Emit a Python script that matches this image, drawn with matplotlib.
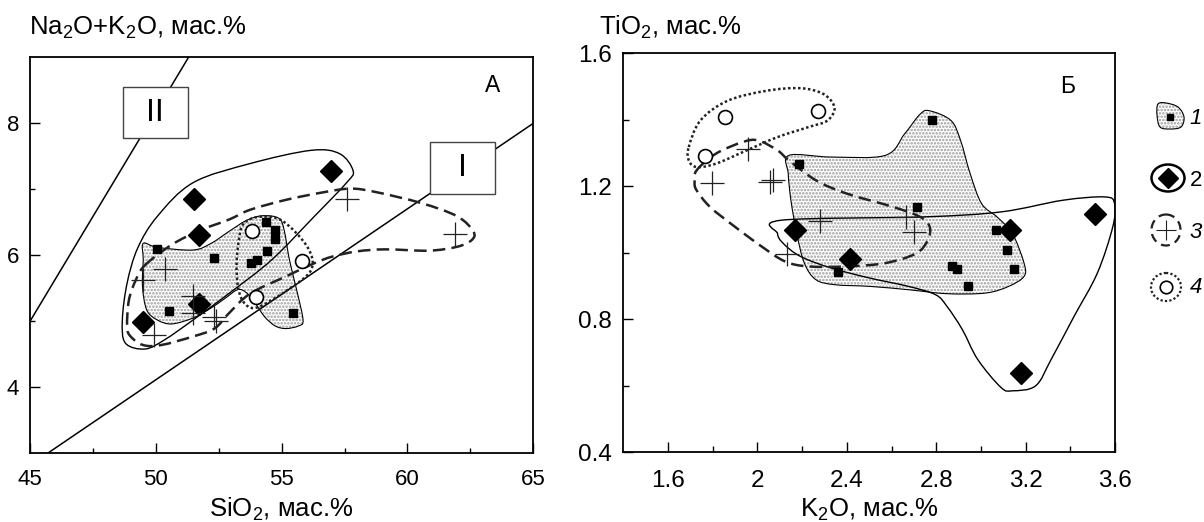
import numpy as np
import matplotlib
matplotlib.use('Agg')
import matplotlib.pyplot as plt
from matplotlib.path import Path
from matplotlib.patches import PathPatch, Rectangle, Ellipse

plt.rcParams['font.family'] = ['Liberation Sans', 'DejaVu Sans']
plt.rcParams['mathtext.fontset'] = 'custom'
plt.rcParams['mathtext.rm'] = 'Liberation Sans'
plt.rcParams['mathtext.it'] = 'Liberation Sans:italic'
plt.rcParams['hatch.linewidth'] = 1.2

# ---------- panel A: SiO2 vs Na2O+K2O ----------
a_sq_x = [50.06, 52.30, 50.52, 54.39, 54.74, 54.72, 54.43, 53.78, 54.01, 55.45]
a_sq_y = [6.09, 5.96, 5.16, 6.50, 6.38, 6.25, 6.07, 5.89, 5.93, 5.12]
a_dm_x = [51.50, 51.71, 51.71, 49.50, 56.96]
a_dm_y = [6.86, 6.30, 5.26, 4.99, 7.28]
a_cr_x = [57.58, 61.87, 50.35, 49.50, 51.48, 51.48, 52.33, 52.40, 49.92]
a_cr_y = [6.85, 6.33, 5.79, 5.63, 5.38, 5.12, 5.07, 5.00, 4.79]
a_ci_x = [53.82, 55.81, 53.99]
a_ci_y = [6.37, 5.91, 5.37]

# field outlines
a_f1_x = [49.50, 50.06, 51.48, 52.19, 52.90, 53.61, 54.25, 54.89, 55.10, 55.31, 55.60, 55.85, 55.67,
          55.17, 54.74, 54.32, 53.96, 53.61, 53.26, 52.76, 52.19, 51.48, 50.63, 50.06, 49.64, 49.47, 49.50]
a_f1_y = [6.18, 6.12, 6.08, 6.18, 6.36, 6.53, 6.60, 6.56, 6.38, 5.93, 5.47, 5.02, 4.93,
          4.89, 4.93, 5.07, 5.27, 5.43, 5.48, 5.35, 5.20, 5.05, 4.96, 5.02, 5.17, 5.53, 5.93]
a_f2_x = [49.28, 50.06, 51.48, 53.75, 56.16, 57.30, 57.84, 57.58, 56.30, 54.60, 52.90, 51.48, 50.35,
          49.57, 48.79, 48.67, 48.86]
a_f2_y = [6.11, 6.59, 7.10, 7.39, 7.59, 7.54, 7.28, 7.10, 6.59, 5.93, 5.42, 5.02, 4.72,
          4.58, 4.67, 5.02, 5.58]
a_f3_x = [49.57, 50.63, 51.77, 52.90, 53.75, 55.17, 56.59, 57.72, 58.72, 60.56, 61.98, 62.62, 62.55,
          61.98, 60.84, 59.14, 58.01, 57.01, 56.30, 55.17, 53.75, 52.90, 52.33, 51.48, 50.21, 49.50,
          49.00, 48.86, 48.93, 49.21]
a_f3_y = [5.85, 6.16, 6.38, 6.54, 6.69, 6.84, 6.95, 7.01, 6.96, 6.79, 6.59, 6.36, 6.23,
          6.13, 6.07, 6.09, 6.06, 5.98, 5.88, 5.68, 5.42, 5.12, 4.89, 4.77, 4.64, 4.64,
          4.77, 4.92, 5.32, 5.63]
a_f4_x = [53.30, 53.47, 54.04, 54.89, 55.60, 56.09, 56.23, 55.88, 54.60, 53.89, 53.47, 53.26, 53.21]
a_f4_y = [6.23, 6.47, 6.58, 6.55, 6.33, 6.08, 5.85, 5.65, 5.32, 5.20, 5.30, 5.53, 5.88]

# boundary lines I and II
line1_x = [45.7, 65.0]
line1_y = [3.0, 8.0]
line2_x = [45.0, 51.3]
line2_y = [5.0, 9.0]

# ---------- panel Б: K2O vs TiO2 ----------
b_sq_x = [2.779, 2.188, 2.716, 3.067, 3.119, 3.150, 2.869, 2.891, 2.943, 2.360]
b_sq_y = [1.400, 1.268, 1.138, 1.070, 1.008, 0.951, 0.959, 0.951, 0.899, 0.941]
b_dm_x = [2.167, 2.414, 3.129, 3.512, 3.181]
b_dm_y = [1.068, 0.981, 1.068, 1.118, 0.639]
b_cr_x = [1.960, 1.797, 2.055, 2.072, 2.279, 2.133, 2.667, 2.702]
b_cr_y = [1.313, 1.210, 1.213, 1.220, 1.096, 0.996, 1.108, 1.063]
b_ci_x = [1.857, 2.271, 1.766]
b_ci_y = [1.407, 1.427, 1.290]

b_f1_x = [2.141, 2.331, 2.572, 2.659, 2.728, 2.771, 2.866, 2.909, 2.952, 3.003, 3.072, 3.141, 3.193,
          3.193, 3.124, 3.021, 2.848, 2.676, 2.503, 2.348, 2.262, 2.210, 2.176, 2.150, 2.138]
b_f1_y = [1.293, 1.288, 1.293, 1.358, 1.417, 1.427, 1.398, 1.338, 1.238, 1.148, 1.108, 1.058, 0.969,
          0.929, 0.899, 0.879, 0.877, 0.889, 0.899, 0.904, 0.919, 0.969, 1.058, 1.158, 1.238]
b_f2_x = [2.107, 2.745, 3.090, 3.366, 3.555, 3.598, 3.590, 3.521, 3.417, 3.314, 3.245, 3.141, 3.090,
          2.986, 2.917, 2.848, 2.797, 2.676, 2.503, 2.331, 2.193, 2.116, 2.090]
b_f2_y = [1.098, 1.108, 1.123, 1.158, 1.168, 1.148, 1.078, 0.939, 0.809, 0.679, 0.600, 0.585, 0.595,
          0.679, 0.769, 0.839, 0.874, 0.899, 0.924, 0.954, 0.989, 1.028, 1.058]
b_f3_x = [1.728, 1.814, 1.934, 2.003, 2.090, 2.141, 2.262, 2.400, 2.607, 2.728, 2.771, 2.762, 2.710,
          2.572, 2.400, 2.228, 2.124, 2.021, 1.900, 1.788, 1.728, 1.719]
b_f3_y = [1.248, 1.298, 1.333, 1.338, 1.308, 1.278, 1.218, 1.178, 1.138, 1.108, 1.078, 1.038, 0.998,
          0.969, 0.959, 0.959, 0.974, 1.018, 1.078, 1.138, 1.188, 1.213]
b_f4_x = [1.693, 1.745, 1.866, 2.038, 2.193, 2.297, 2.345, 2.314, 2.228, 2.090, 1.952, 1.814, 1.728, 1.693]
b_f4_y = [1.318, 1.398, 1.457, 1.487, 1.495, 1.477, 1.437, 1.398, 1.378, 1.348, 1.308, 1.268, 1.258, 1.278]

a_xticks = [45, 50, 55, 60, 65]
a_yticks = [4, 6, 8]
b_xticks = [1.6, 2.0, 2.4, 2.8, 3.2, 3.6]
b_xlabels = ['1.6', '2', '2.4', '2.8', '3.2', '3.6']
b_yticks = [0.4, 0.8, 1.2, 1.6]
b_ylabels = ['0.4', '0.8', '1.2', '1.6']
legend_nums = ['1', '2', '3', '4']


def smooth(xs, ys):
    # closed curve through the outline points (catmull-rom -> bezier)
    p = np.column_stack([xs, ys])
    n = len(p)
    verts = [p[0]]
    codes = [Path.MOVETO]
    for i in range(n):
        p0, p1, p2, p3 = p[i - 1], p[i], p[(i + 1) % n], p[(i + 2) % n]
        verts += [p1 + (p2 - p0) / 6, p2 - (p3 - p1) / 6, p2]
        codes += [Path.CURVE4] * 3
    verts.append(p[0])
    codes.append(Path.CLOSEPOLY)
    return Path(verts, codes)


def fields(ax, f1, f2, f3, f4):
    ax.add_patch(PathPatch(smooth(*f1), facecolor='white', edgecolor='#9a9a9a', lw=0,
                           hatch='.....', zorder=1))
    ax.add_patch(PathPatch(smooth(*f1), fill=False, edgecolor='black', lw=0.8, zorder=3))
    ax.add_patch(PathPatch(smooth(*f2), fill=False, edgecolor='black', lw=1.0, zorder=3))
    ax.add_patch(PathPatch(smooth(*f3), fill=False, edgecolor='#222222', lw=1.8,
                           linestyle=(0, (5, 2.5)), zorder=3))
    ax.add_patch(PathPatch(smooth(*f4), fill=False, edgecolor='#222222', lw=1.8,
                           linestyle=(0, (1, 1)), zorder=3))


def points(ax, sx, sy, dx, dy, cx, cy, ox, oy):
    ax.plot(sx, sy, 's', color='black', ms=6, zorder=4)
    ax.plot(dx, dy, 'D', color='black', ms=11, zorder=4)
    ax.plot(cx, cy, '+', color='#222222', ms=17, mew=0.9, zorder=4)
    ax.plot(ox, oy, 'o', mfc='white', mec='black', ms=10, mew=1.2, zorder=4)


fig = plt.figure(figsize=(12.04, 5.22), dpi=100)

# ----- left panel
ax1 = fig.add_axes([30 / 1204, 1 - 453.3 / 522, 503.3 / 1204, 396 / 522])
ax1.plot(line1_x, line1_y, color='black', lw=1.1, zorder=2)
ax1.plot(line2_x, line2_y, color='black', lw=1.1, zorder=2)
fields(ax1, (a_f1_x, a_f1_y), (a_f2_x, a_f2_y), (a_f3_x, a_f3_y), (a_f4_x, a_f4_y))
points(ax1, a_sq_x, a_sq_y, a_dm_x, a_dm_y, a_cr_x, a_cr_y, a_ci_x, a_ci_y)
ax1.add_patch(Rectangle((48.69, 7.77), 2.58, 0.78, facecolor='white', edgecolor='#444444',
                        lw=1.0, zorder=5))
ax1.text(49.98, 8.16, 'II', fontsize=23, ha='center', va='center', zorder=6)
ax1.add_patch(Rectangle((60.9, 6.93), 2.57, 0.78, facecolor='white', edgecolor='#444444',
                        lw=1.0, zorder=5))
ax1.text(62.18, 7.32, 'I', fontsize=23, ha='center', va='center', zorder=6)
ax1.text(63.4, 8.57, 'А', fontsize=16.5, ha='center', va='center')
ax1.set_xlim(45, 65)
ax1.set_ylim(3, 9)
ax1.set_xticks(a_xticks)
ax1.set_xticks(np.arange(47.5, 65, 5), minor=True)
ax1.set_yticks(a_yticks)
ax1.set_yticks([5, 7], minor=True)
ax1.tick_params(which='both', direction='in', width=1, labelsize=16, top=False, right=False)
ax1.tick_params(which='major', length=7.2)
ax1.tick_params(which='minor', length=3.6)
ax1.tick_params(axis='x', pad=11)
ax1.tick_params(axis='y', pad=8)

# ----- right panel
ax2 = fig.add_axes([623.3 / 1204, 1 - 452.3 / 522, 491.7 / 1204, 399 / 522])
fields(ax2, (b_f1_x, b_f1_y), (b_f2_x, b_f2_y), (b_f3_x, b_f3_y), (b_f4_x, b_f4_y))
points(ax2, b_sq_x, b_sq_y, b_dm_x, b_dm_y, b_cr_x, b_cr_y, b_ci_x, b_ci_y)
ax2.text(3.39, 1.50, 'Б', fontsize=16.5, ha='center', va='center')
ax2.set_xlim(1.4, 3.6)
ax2.set_ylim(0.4, 1.6)
ax2.set_xticks(b_xticks)
ax2.set_xticklabels(b_xlabels)
ax2.set_xticks(np.arange(1.8, 3.5, 0.4), minor=True)
ax2.set_yticks(b_yticks)
ax2.set_yticklabels(b_ylabels)
ax2.set_yticks([0.6, 1.0, 1.4], minor=True)
ax2.tick_params(which='both', direction='in', width=1, labelsize=17.5, top=False, right=False)
ax2.tick_params(which='major', length=7.5)
ax2.tick_params(which='minor', length=4)
ax2.tick_params(axis='x', pad=13)
ax2.tick_params(axis='y', pad=8)

for ax in (ax1, ax2):
    for s in ax.spines.values():
        s.set_linewidth(1.3)

# axis titles
fig.text(29 / 1204, 1 - 35 / 522, 'Na$_2$O+K$_2$O, мас.%', fontsize=18.5, va='baseline')
fig.text(599 / 1204, 1 - 35 / 522, 'TiO$_2$, мас.%', fontsize=18.5, va='baseline')
fig.text(281.5 / 1204, 1 - 517 / 522, 'SiO$_2$, мас.%', fontsize=18.5, ha='center', va='baseline')
fig.text(869 / 1204, 1 - 517 / 522, 'K$_2$O, мас.%', fontsize=18.5, ha='center', va='baseline')

# ----- legend (pixel coordinates)
lg = fig.add_axes([1130 / 1204, 1 - 320 / 522, 74 / 1204, 225 / 522])
lg.set_xlim(1130, 1204)
lg.set_ylim(320, 95)
lg.axis('off')
blob_x = [1158, 1166, 1178, 1184, 1181, 1170, 1160, 1157]
blob_y = [104, 103, 107, 117, 127, 129, 127, 115]
lg.add_patch(PathPatch(smooth(blob_x, blob_y), facecolor='white', edgecolor='#9a9a9a', lw=0,
                       hatch='.....'))
lg.add_patch(PathPatch(smooth(blob_x, blob_y), fill=False, edgecolor='black', lw=0.8))
lg.plot([1170.5], [117], 's', color='black', ms=5)
lg.add_patch(Ellipse((1168, 178), 33, 27, fill=False, edgecolor='black', lw=1.8))
lg.plot([1168], [178], 'D', color='black', ms=10)
lg.add_patch(Ellipse((1166, 230), 29, 31, fill=False, edgecolor='#222222', lw=1.6,
                     linestyle=(0, (4, 2.5))))
lg.plot([1166], [230], '+', color='#222222', ms=15, mew=0.8)
lg.add_patch(Ellipse((1166, 287), 30, 28, fill=False, edgecolor='#222222', lw=1.6,
                     linestyle=(0, (1, 1))))
lg.plot([1166], [287], 'o', mfc='white', mec='black', ms=9, mew=1.2)
for num, yy in zip(legend_nums, [118, 180, 232, 288]):
    lg.text(1196, yy, num, fontsize=16, ha='center', va='center',
            style='normal' if num == '2' else 'italic')

fig.savefig('out.png', dpi=100)
